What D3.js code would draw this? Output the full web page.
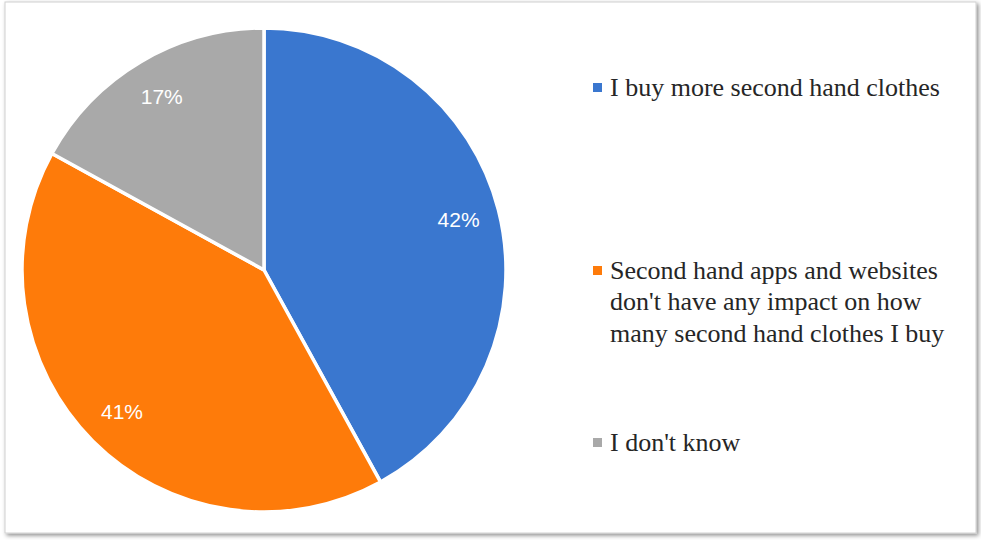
<!DOCTYPE html>
<html lang="en">
<head>
<meta charset="utf-8">
<title>second hand pie</title>
<script src="https://cdn.jsdelivr.net/npm/d3@7/dist/d3.min.js"></script>
<style>
  body { margin: 0; background: #fff; }
  .pct { font-family: "Liberation Sans", Arial, sans-serif; font-size: 21px; fill: #fff; }
  .leg { font-family: "Liberation Serif", "DejaVu Serif", serif; font-size: 26px; fill: #262626; }
</style>
</head>
<body>
<script>
var w = 981, h = 540;

var categories = ["I buy more second hand clothes",
  "Second hand apps and websites don't have any impact on how many second hand clothes I buy",
  "I don't know"];
var values = [42, 41, 17];
var legendLines = [["I buy more second hand clothes"],
  ["Second hand apps and websites", "don't have any impact on how", "many second hand clothes I buy"],
  ["I don't know"]];
var colors = ["#3a77cf", "#fe7b0a", "#a9a9a9"];

var svg = d3.select("body").append("svg")
  .attr("width", w).attr("height", h);

var defs = svg.append("defs");
var f = defs.append("filter").attr("id", "shadow")
  .attr("x", "-5%").attr("y", "-5%").attr("width", "110%").attr("height", "110%");
f.append("feDropShadow").attr("dx", 2).attr("dy", 2).attr("stdDeviation", 2)
  .attr("flood-color", "#000").attr("flood-opacity", 0.45);

// frame
svg.append("rect")
  .attr("x", 5).attr("y", 2).attr("width", 971).attr("height", 531)
  .attr("fill", "#fff").attr("stroke", "#d0d0d0").attr("stroke-width", 1)
  .attr("filter", "url(#shadow)");

var cx = 264, cy = 270, R = 242;

var pie = d3.pie().sort(null).value(function(d){ return d; });
var arc = d3.arc().innerRadius(0).outerRadius(R);
var labelArc = d3.arc().innerRadius(R * 0.83).outerRadius(R * 0.83);

var g = svg.append("g").attr("transform", "translate(" + cx + "," + cy + ")");
var arcs = pie(values);

g.selectAll("path").data(arcs).enter().append("path")
  .attr("d", arc)
  .attr("fill", function(d, i){ return colors[i]; })
  .attr("stroke", "#fff").attr("stroke-width", 3.5).attr("stroke-linejoin", "round");

g.selectAll("text").data(arcs).enter().append("text")
  .attr("class", "pct")
  .attr("transform", function(d){ return "translate(" + labelArc.centroid(d) + ")"; })
  .attr("text-anchor", "middle").attr("dy", "0.35em")
  .text(function(d){ return d.value + "%"; });

// legend
var legY = [87, 270, 442];
var lineH = 31.5;
var leg = svg.append("g");
legendLines.forEach(function(lines, i){
  leg.append("rect")
    .attr("x", 593).attr("y", legY[i] - 4).attr("width", 9).attr("height", 9)
    .attr("fill", colors[i]);
  lines.forEach(function(t, k){
    leg.append("text").attr("class", "leg")
      .attr("x", 610).attr("y", legY[i] + k * lineH).attr("dy", "0.33em")
      .text(t);
  });
});
</script>
</body>
</html>
